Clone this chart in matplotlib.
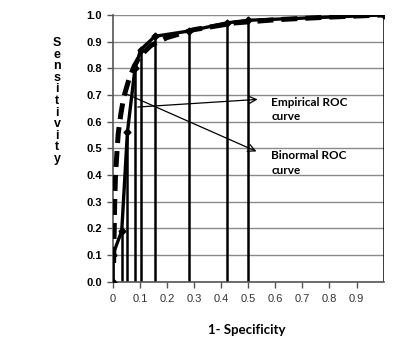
import matplotlib
matplotlib.use("Agg")
import matplotlib.pyplot as plt

# Empirical ROC points (1-specificity, sensitivity)
emp_fpr = [0.0, 0.0, 0.033, 0.054, 0.082, 0.103, 0.156, 0.283, 0.42, 0.50, 1.0]
emp_tpr = [0.0, 0.10, 0.19, 0.56, 0.80, 0.87, 0.92, 0.94, 0.97, 0.98, 1.0]

# Binormal ROC curve
bin_fpr = [0.003, 0.005, 0.007, 0.010, 0.015, 0.02, 0.03, 0.04, 0.06, 0.08, 0.10, 0.14, 0.20, 0.30, 0.45, 0.60, 0.80, 1.0]
bin_tpr = [0.07, 0.18, 0.30, 0.40, 0.48, 0.555, 0.63, 0.69, 0.76, 0.81, 0.845, 0.885, 0.915, 0.945, 0.97, 0.982, 0.992, 1.0]

x_ticks = [0, 0.1, 0.2, 0.3, 0.4, 0.5, 0.6, 0.7, 0.8, 0.9]
x_tick_labels = ["0", "0.1", "0.2", "0.3", "0.4", "0.5", "0.6", "0.7", "0.8", "0.9"]
y_ticks = [0.0, 0.1, 0.2, 0.3, 0.4, 0.5, 0.6, 0.7, 0.8, 0.9, 1.0]
y_tick_labels = ["0.0", "0.1", "0.2", "0.3", "0.4", "0.5", "0.6", "0.7", "0.8", "0.9", "1.0"]

fig = plt.figure(figsize=(4.0, 3.56), dpi=100)
ax = fig.add_axes([0.282, 0.209, 0.677, 0.749])
ax.set_xlim(0, 1.0)
ax.set_ylim(0, 1.0)

# gridlines
for yv in y_ticks:
    ax.axhline(yv, color="#8a8a8a", lw=1.0, zorder=0)

# drop lines
ax.vlines(emp_fpr, 0, emp_tpr, colors="black", lw=1.8, zorder=2)

# empirical curve
ax.plot(emp_fpr, emp_tpr, color="black", lw=2.4, marker="D", ms=3.5, zorder=3)
# binormal curve
ax.plot(bin_fpr, bin_tpr, color="black", lw=3.6, ls=(0, (3.2, 1.6)), zorder=4)

ax.set_xticks(x_ticks)
ax.set_xticklabels(x_tick_labels, fontsize=8, family="Liberation Sans", color="#333333")
ax.set_yticks(y_ticks)
ax.set_yticklabels(y_tick_labels, fontsize=8, family="Liberation Sans", fontweight="bold")
ax.tick_params(axis="x", length=4, width=1, color="#555555", pad=5)
ax.tick_params(axis="y", length=4, width=1, color="#555555", pad=4)

for s in ["top", "right"]:
    ax.spines[s].set_visible(False)
ax.spines["left"].set_color("#555555")
ax.spines["bottom"].set_color("#555555")
ax.spines["left"].set_linewidth(1.2)
ax.spines["bottom"].set_linewidth(1.2)

# annotations
ax.annotate("", xy=(0.545, 0.684), xytext=(0.082, 0.654),
            arrowprops=dict(arrowstyle="->", color="black", lw=0.9, mutation_scale=13))
ax.annotate("", xy=(0.540, 0.484), xytext=(0.045, 0.706),
            arrowprops=dict(arrowstyle="->", color="black", lw=0.9, mutation_scale=13))
ax.text(0.585, 0.645, "Empirical ROC\ncurve", fontsize=8.5, fontweight="bold",
        family="Lato", va="center", ha="left", linespacing=1.35)
ax.text(0.585, 0.445, "Binormal ROC\ncurve", fontsize=8.5, fontweight="bold",
        family="Lato", va="center", ha="left", linespacing=1.35)

fig.text(247 / 400, 1 - 330 / 356, "1- Specificity", fontsize=9.5, fontweight="bold",
         family="Lato", ha="center", va="center")
fig.text(57 / 400, 1 - 101 / 356, "\n".join("Sensitivity"), fontsize=9, fontweight="bold",
         family="Liberation Sans", ha="center", va="center", linespacing=0.95)

fig.savefig("out.png", dpi=100)
